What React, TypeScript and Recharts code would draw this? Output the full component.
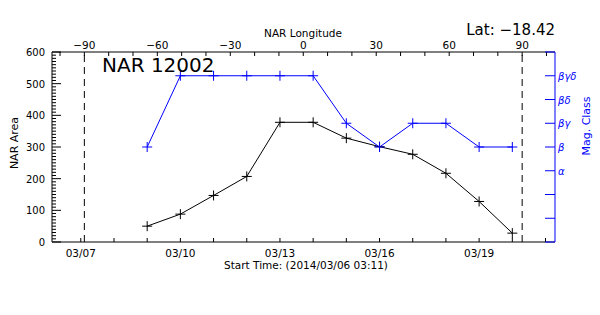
import React from 'react';
import { ComposedChart, Line, XAxis, YAxis } from 'recharts';

// ---- data ----
const dates = ['03/09', '03/10', '03/11', '03/12', '03/13', '03/14', '03/15', '03/16', '03/17', '03/18', '03/19', '03/20'];
const narArea = [50, 88, 147, 207, 378, 378, 328, 301, 277, 217, 128, 28];
const magClass = [4, 7, 7, 7, 7, 7, 5, 4, 5, 5, 4, 4];
const magLabels = ['', '', '', 'α', 'β', 'βγ', 'βδ', 'βγδ', ''];
const magTicks = [0, 1, 2, 3, 4, 5, 6, 7, 8];
const dayTicks = [1, 2, 3, 4, 5, 6, 7, 8, 9, 10, 11, 12, 13, 14, 15];
const dayLabelEvery = 3;
const lonTicks = [-100, -90, -80, -70, -60, -50, -40, -30, -20, -10, 0, 10, 20, 30, 40, 50, 60, 70, 80, 90, 100];
const lonLabelEvery = 30;
const areaTicks = Array.from({ length: 61 }, (_, i) => i * 10);
const limbLongitudes = [-90, 90];
const timeDomain: [number, number] = [0.1326, 15.286]; // days since 2014/03/06 00:00 (start 03:11)
const lonDomain: [number, number] = [-103.3, 103.5];
const areaDomain: [number, number] = [0, 600];
const magDomain: [number, number] = [0, 8];
const regionName = 'NAR 12002';
const latitude = '−18.42';
const startTime = '(2014/03/06 03:11)';

const BLUE = '#0000ff';
const FONT = '"DejaVu Sans", sans-serif';

const dayOf = (mmdd: string) => {
  const [m, d] = mmdd.split('/').map(Number);
  return (Date.UTC(2014, m - 1, d) - Date.UTC(2014, 2, 6)) / 86400000;
};
const fmtDay = (v: number) => {
  const dt = new Date(Date.UTC(2014, 2, 6) + v * 86400000);
  const mm = String(dt.getUTCMonth() + 1).padStart(2, '0');
  const dd = String(dt.getUTCDate()).padStart(2, '0');
  return `${mm}/${dd}`;
};

const data = dates.map((d, i) => ({ t: dayOf(d), area: narArea[i], mag: magClass[i] }));
const limbData = limbLongitudes.map((lon) => [
  { lon, edge: areaDomain[0] },
  { lon, edge: areaDomain[1] },
]);

const BottomTick = (p: any) => {
  const { x, y, payload } = p;
  const v = payload.value;
  const lab = (v - 1) % dayLabelEvery === 0;
  return (
    <g>
      <line x1={x} x2={x} y1={y} y2={y - 4} stroke="#000" />
      {lab && (
        <text x={x} y={y + 14.5} textAnchor="middle" fontSize={10.5} fontFamily={FONT} fill="#000">
          {fmtDay(v)}
        </text>
      )}
    </g>
  );
};

const TopTick = (p: any) => {
  const { x, y, payload } = p;
  const v = payload.value;
  const lab = v % lonLabelEvery === 0;
  return (
    <g>
      <line x1={x} x2={x} y1={y} y2={y + 4} stroke="#000" />
      {lab && (
        <text x={x} y={y - 3.5} textAnchor="middle" fontSize={10.5} fontFamily={FONT} fill="#000">
          {v < 0 ? `−${Math.abs(v)}` : `${v}`}
        </text>
      )}
    </g>
  );
};

const LeftTick = (p: any) => {
  const { x, y, payload } = p;
  const v = payload.value;
  const major = v % 100 === 0;
  return (
    <g>
      <line x1={x} x2={x + (major ? 9 : 4)} y1={y} y2={y} stroke="#000" />
      {major && (
        <text x={x - 7} y={y + 4} textAnchor="end" fontSize={10} fontFamily={FONT} fill="#000">
          {v}
        </text>
      )}
    </g>
  );
};

const RightTick = (p: any) => {
  const { x, y, payload } = p;
  const lab = magLabels[payload.value] || '';
  return (
    <g>
      <line x1={x - 10} x2={x} y1={y} y2={y} stroke={BLUE} />
      {lab && (
        <text x={x + 3} y={y + 4} textAnchor="start" fontSize={10} fontStyle="italic" fontFamily={FONT} fill={BLUE}>
          {lab}
        </text>
      )}
    </g>
  );
};

const plusDot = (color: string) => (p: any) => {
  const { cx, cy, index } = p;
  return (
    <path
      key={`d-${color}-${index}`}
      d={`M${cx - 5},${cy}h10M${cx},${cy - 5}v10`}
      stroke={color}
      strokeWidth={1}
      fill="none"
    />
  );
};

export default function App() {
  return (
    <div style={{ position: 'absolute', left: 0, top: 0, width: 600, height: 315, background: '#fff' }}>
      <ComposedChart width={600} height={315} data={data} margin={{ top: 0, right: 0, bottom: 0, left: 0 }}>
        <XAxis
          xAxisId="bottom"
          dataKey="t"
          type="number"
          orientation="bottom"
          domain={timeDomain}
          allowDataOverflow
          ticks={dayTicks}
          interval={0}
          height={73}
          tickSize={0}
          tickMargin={0}
          tickLine={false}
          tick={<BottomTick />}
          axisLine={{ stroke: '#000' }}
        />
        <XAxis
          xAxisId="top"
          dataKey="lon"
          type="number"
          orientation="top"
          domain={lonDomain}
          allowDataOverflow
          ticks={lonTicks}
          interval={0}
          height={52}
          tickSize={0}
          tickMargin={0}
          tickLine={false}
          tick={<TopTick />}
          axisLine={{ stroke: '#000' }}
        />
        <YAxis
          yAxisId="left"
          orientation="left"
          type="number"
          domain={areaDomain}
          allowDataOverflow
          ticks={areaTicks}
          interval={0}
          width={52}
          tickSize={0}
          tickMargin={0}
          tickLine={false}
          tick={<LeftTick />}
          axisLine={{ stroke: '#000' }}
        />
        <YAxis
          yAxisId="right"
          orientation="right"
          type="number"
          domain={magDomain}
          allowDataOverflow
          ticks={magTicks}
          interval={0}
          width={45}
          tickSize={0}
          tickMargin={0}
          tickLine={false}
          tick={<RightTick />}
          axisLine={{ stroke: BLUE }}
        />
        {limbData.map((ld, i) => (
          <Line
            key={`limb-${i}`}
            data={ld}
            xAxisId="top"
            yAxisId="left"
            dataKey="edge"
            stroke="#000"
            strokeWidth={1}
            strokeDasharray="7 5"
            dot={false}
            activeDot={false}
            isAnimationActive={false}
          />
        ))}
        <Line
          xAxisId="bottom"
          yAxisId="left"
          dataKey="area"
          stroke="#000"
          strokeWidth={1}
          dot={plusDot('#000')}
          activeDot={false}
          isAnimationActive={false}
        />
        <Line
          xAxisId="bottom"
          yAxisId="right"
          dataKey="mag"
          stroke={BLUE}
          strokeWidth={1}
          dot={plusDot(BLUE)}
          activeDot={false}
          isAnimationActive={false}
        />
      </ComposedChart>
      <svg
        width={600}
        height={315}
        style={{ position: 'absolute', left: 0, top: 0, pointerEvents: 'none' }}
      >
        <text x={102} y={72} fontSize={20} fontFamily={FONT} fill="#000">{regionName}</text>
        <text x={555} y={34.5} fontSize={15} textAnchor="end" fontFamily={FONT} fill="#000">{`Lat: ${latitude}`}</text>
        <text x={303} y={36.5} fontSize={10.5} textAnchor="middle" fontFamily={FONT} fill="#000">NAR Longitude</text>
        <text x={306} y={269} fontSize={10.5} textAnchor="middle" fontFamily={FONT} fill="#000">{`Start Time: ${startTime}`}</text>
        <text x={17.5} y={143} fontSize={11} textAnchor="middle" fontFamily={FONT} fill="#000" transform="rotate(-90 17.5 143)">NAR Area</text>
        <text x={590} y={126} fontSize={11} textAnchor="middle" fontFamily={FONT} fill={BLUE} transform="rotate(-90 590 126)">Mag. Class</text>
      </svg>
    </div>
  );
}
